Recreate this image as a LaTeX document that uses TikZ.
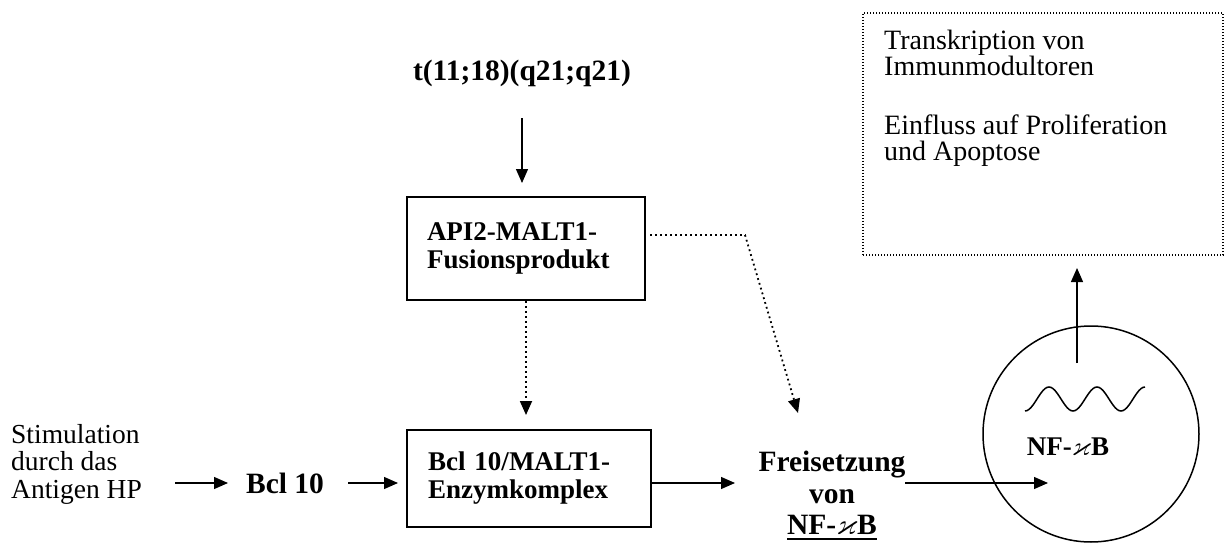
\documentclass[tikz,border=0pt]{standalone}
\usepackage{amssymb}
\usepackage{fontspec}
\setmainfont{Liberation Serif}
\usetikzlibrary{arrows.meta}
\newcommand{\nfkb}{NF-$\varkappa$B}
\begin{document}
\begin{tikzpicture}[x=1pt,y=-1pt,
  txt/.style={inner sep=0pt, font=\fontsize{27.5}{27.5}\selectfont},
  btxt/.style={inner sep=0pt, font=\fontsize{29.5}{31.5}\selectfont\bfseries},
  procbox/.style={draw, line width=1.6pt, inner ysep=0pt, align=left, font=\fontsize{27}{28}\selectfont\bfseries},
  arr/.style={line width=1.3pt, -{Triangle[length=14pt,width=12pt]}},
  dotarr/.style={line width=1.8pt, dash pattern=on 1.8pt off 3.2pt, -{Triangle[length=14pt,width=12pt]}},
]
\useasboundingbox (0,0) rectangle (1227,543);

% nodes
\node[btxt] (t) at (522,73) {t(11;18)(q21;q21)};
\node[procbox, text width=198pt, inner xsep=20pt, minimum height=103pt] (api) at (526,248.5) {API2-MALT1-\\Fusionsprodukt};
\node[procbox, text width=202pt, inner xsep=21pt, minimum height=97pt] (bclbox) at (529,478.5) {Bcl 10/MALT1-\\Enzymkomplex};
\node[txt, anchor=west, align=left] (stim) at (11,464) {Stimulation\\durch das\\Antigen HP};
\node[btxt] (bclten) at (285,483) {Bcl 10};
\node[btxt, align=center] (frei) at (832,496) {Freisetzung\\von\\\underline{\nfkb}};
\node[draw, circle, line width=1.5pt, minimum size=216pt, inner sep=0pt] (nuc) at (1091,434) {};
\node[inner sep=0pt, font=\fontsize{27}{27}\selectfont\bfseries] (nfkbin) at (1068,447) {\nfkb};
\node[draw, line width=1.2pt, dash pattern=on 1.2pt off 1.8pt, minimum width=360pt, minimum height=242pt, inner sep=0pt] (out) at (1043,134) {};
\node[anchor=north west, align=left, inner sep=0pt, font=\fontsize{28}{25.5}\selectfont] (outtxt) at (884,30) {Transkription von\\Immunmodultoren\\[34pt]Einfluss auf Proliferation\\und Apoptose};

% wave in nucleus
\draw[line width=1.5pt] plot[smooth, samples=61, domain=0:900] ({1025+\x/7.5},{399+12*cos(\x)});

% coordinates for connector ends
\coordinate (t-out) at (522,118);
\coordinate (api-in) at (522,183);
\coordinate (api-r) at (645,235);
\coordinate (bend) at (745,235);
\coordinate (frei-in) at (798,413);
\coordinate (bcl-in) at (526,415);
\coordinate (stim-out) at (175,483);
\coordinate (bclten-in) at (228,483);
\coordinate (bclten-out) at (348,483);
\coordinate (box-in) at (398,483);
\coordinate (box-out) at (651,483);
\coordinate (frei-tip) at (735,483);
\coordinate (frei-out) at (905,483);
\coordinate (nuc-in) at (1048,483);
\coordinate (nuc-up) at (1077,363);
\coordinate (out-in) at (1077,268);

% connectors
\draw[arr] (t-out) -- (api-in);
\draw[dotarr] (api.south) -- (bcl-in);
\draw[dotarr] ([xshift=5pt]api-r) -- (bend) -- (frei-in);
\draw[arr] (stim-out) -- (bclten-in);
\draw[arr] (bclten-out) -- (box-in);
\draw[arr] (box-out) -- (frei-tip);
\draw[arr] (frei-out) -- (nuc-in);
\draw[arr] (nuc-up) -- (out-in);
\end{tikzpicture}
\end{document}
